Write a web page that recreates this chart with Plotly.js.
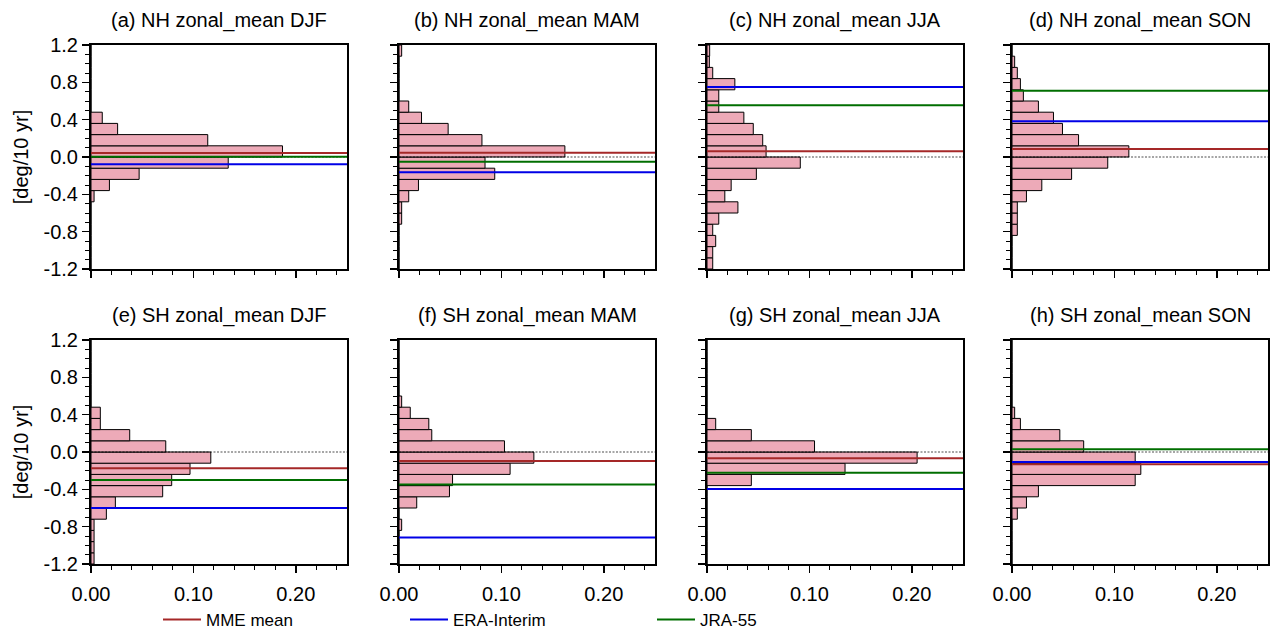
<!DOCTYPE html>
<html>
<head>
<meta charset="utf-8">
<script src="https://cdn.plot.ly/plotly-3.0.1.min.js"></script>
<style>html,body{margin:0;padding:0;background:#fff;}#chart{width:1270px;height:633px;}</style>
</head>
<body>
<div id="chart"></div>
<script>
// ---- data ----
const binCenters = [-1.14,-1.02,-0.90,-0.78,-0.66,-0.54,-0.42,-0.30,-0.18,-0.06,
                     0.06, 0.18, 0.30, 0.42, 0.54, 0.66, 0.78, 0.90, 1.02, 1.14];
const panelTitles = ["(a) NH zonal_mean DJF","(b) NH zonal_mean MAM","(c) NH zonal_mean JJA","(d) NH zonal_mean SON",
                     "(e) SH zonal_mean DJF","(f) SH zonal_mean MAM","(g) SH zonal_mean JJA","(h) SH zonal_mean SON"];
const histA = [0,0,0,0,0,0,0.003,0.018,0.047,0.134,0.187,0.114,0.026,0.011,0,0,0,0,0,0];
const histB = [0,0,0,0,0.0026,0.0026,0.0095,0.019,0.0935,0.084,0.162,0.081,0.048,0.022,0.0095,0,0,0,0,0.0026];
const histC = [0.0056,0.0056,0.0085,0.0056,0.0115,0.0302,0.0174,0.0236,0.0482,0.0911,0.0577,0.0544,0.0452,0.036,0.0115,0.0115,0.0272,0.0056,0.0023,0.0026];
const histD = [0,0,0,0.0052,0.0052,0.0052,0.0141,0.0291,0.0582,0.0935,0.1141,0.065,0.0493,0.0405,0.0258,0.0111,0.0082,0.0052,0.0026,0];
const histE = [0.003,0.003,0.003,0.003,0.015,0.0238,0.070,0.0788,0.0967,0.117,0.073,0.0378,0.0091,0.0091,0,0,0,0,0,0];
const histF = [0,0,0,0.0026,0,0.0173,0.0493,0.0523,0.1085,0.1317,0.103,0.032,0.0291,0.011,0.0026,0,0,0,0,0];
const histG = [0,0,0,0,0,0,0,0.0433,0.1348,0.2052,0.105,0.0433,0.0085,0,0,0,0,0,0,0];
const histH = [0,0,0,0,0.0052,0.0141,0.0258,0.1203,0.1258,0.1203,0.070,0.0467,0.0082,0.0026,0,0,0,0,0,0];
const mmeMean    = [0.043, 0.045, 0.061, 0.086, -0.175, -0.096, -0.068, -0.132];
const eraInterim = [-0.079, -0.164, 0.75, 0.382, -0.60, -0.915, -0.397, -0.107];
const jra55      = [0.004, -0.05, 0.554, 0.711, -0.30, -0.347, -0.221, 0.029];
const yTickVals = [-1.2,-0.8,-0.4,0,0.4,0.8,1.2];
const yTickText = ["-1.2","-0.8","-0.4","0.0","0.4","0.8","1.2"];
const xTickVals = [0,0.1,0.2];
const xTickText = ["0.00","0.10","0.20"];
const seriesNames = ["MME mean","ERA-Interim","JRA-55"];
// ---- styling ----
const seriesColors = ["rgb(165,40,40)","rgb(0,0,230)","rgb(0,110,0)"];
const barColor = "rgb(237,170,184)";
const hists = [histA,histB,histC,histD,histE,histF,histG,histH];
const lines = [mmeMean, eraInterim, jra55];
const W = 1270, H = 633;
const colLeft = [91, 399, 707, 1012];
const pw = 256;
const rowTop = [45, 340], ph = 224;
const fontFam = "Liberation Sans, Arial, Helvetica, sans-serif";

const traces = [];
const layout = {
  width: W, height: H,
  margin: {l:0, r:0, t:0, b:0, autoexpand: false},
  paper_bgcolor: "#fff", plot_bgcolor: "#fff",
  showlegend: true,
  legend: {orientation: "h", x: 158/W, xanchor: "left", y: 1-620/H, yanchor: "middle",
           entrywidth: 194, entrywidthmode: "pixels", font: {family: fontFam, size: 17, color: "#000"},
           bgcolor: "rgba(0,0,0,0)", tracegroupgap: 0, itemwidth: 38},
  bargap: 0,
  annotations: [], shapes: []
};

for (let p = 0; p < 8; p++) {
  const r = Math.floor(p / 4), c = p % 4;
  const sx = p === 0 ? "" : String(p + 1);
  const xa = "x" + sx, ya = "y" + sx;
  const x0 = colLeft[c] / W, x1 = (colLeft[c] + pw) / W;
  const y1 = 1 - rowTop[r] / H, y0 = 1 - (rowTop[r] + ph) / H;
  layout["xaxis" + sx] = {
    domain: [x0, x1], range: [0, 0.25], anchor: ya,
    tickvals: xTickVals, ticktext: xTickText, showticklabels: r === 1,
    ticks: "outside", ticklen: 7, tickwidth: 1.5, tickcolor: "#000", ticklabelstandoff: 4,
    minor: {dtick: 0.02, tick0: 0, ticks: "outside", ticklen: 4, tickwidth: 1, tickcolor: "#000", showgrid: false},
    showline: true, linecolor: "#000", linewidth: 2, mirror: true,
    showgrid: false, zeroline: false, fixedrange: true,
    tickfont: {family: fontFam, size: 20, color: "#000"}
  };
  layout["yaxis" + sx] = {
    domain: [y0, y1], range: [-1.2, 1.2], anchor: xa,
    tickvals: yTickVals, ticktext: yTickText, showticklabels: c === 0,
    ticks: "outside", ticklen: 7, tickwidth: 1.5, tickcolor: "#000",
    minor: {dtick: 0.1, tick0: 0, ticks: "outside", ticklen: 4, tickwidth: 1, tickcolor: "#000", showgrid: false},
    showline: true, linecolor: "#000", linewidth: 2, mirror: true,
    showgrid: false, zeroline: false, fixedrange: true,
    tickfont: {family: fontFam, size: 20, color: "#000"}
  };
  if (c === 0) {
    layout["yaxis" + sx].title = {text: "[deg/10 yr]", font: {family: fontFam, size: 20, color: "#000"}, standoff: 10};
  }
  layout.annotations.push({
    text: panelTitles[p], xref: "paper", yref: "paper",
    x: (x0 + x1) / 2, y: y1, xanchor: "center", yanchor: "bottom", yshift: 11,
    showarrow: false, font: {family: fontFam, size: 20, color: "#000"}
  });
  // zero dotted line
  traces.push({type: "scatter", mode: "lines", x: [0, 0.25], y: [0, 0], xaxis: xa, yaxis: ya,
    line: {color: "#000", width: 0.7, dash: "2px,1.5px"}, showlegend: false, hoverinfo: "skip"});
  // histogram bars
  traces.push({type: "bar", orientation: "h", x: hists[p], y: binCenters, width: 0.12,
    xaxis: xa, yaxis: ya, marker: {color: barColor, line: {color: "#000", width: 1}},
    showlegend: false, hoverinfo: "skip"});
  // reference lines
  for (let s = 0; s < 3; s++) {
    traces.push({type: "scatter", mode: "lines", name: seriesNames[s],
      x: [0, 0.25], y: [lines[s][p], lines[s][p]], xaxis: xa, yaxis: ya,
      line: {color: seriesColors[s], width: 2}, legendgroup: seriesNames[s],
      showlegend: p === 0, hoverinfo: "skip"});
  }
}

Plotly.newPlot("chart", traces, layout, {displayModeBar: false, staticPlot: true});
</script>
</body>
</html>
